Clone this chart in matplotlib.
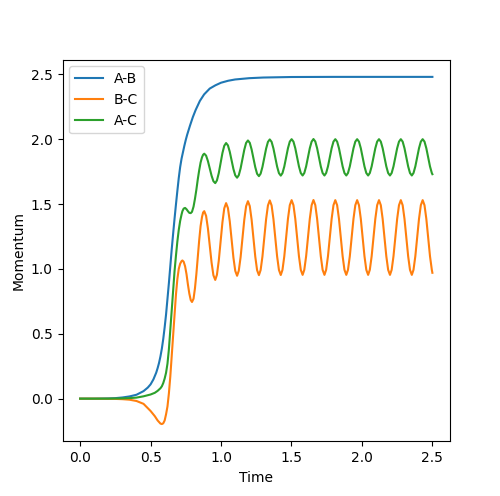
import matplotlib
matplotlib.use("Agg")
import matplotlib.pyplot as plt

# ---- data ----
labels = ["A-B", "B-C", "A-C"]

time_ab = [0.0, 0.1, 0.2, 0.25, 0.3, 0.35, 0.4, 0.45, 0.48, 0.5, 0.52, 0.54, 0.55,
           0.56, 0.57, 0.58, 0.59, 0.6, 0.61, 0.62, 0.63, 0.64, 0.65, 0.66, 0.67,
           0.68, 0.69, 0.70, 0.71, 0.72, 0.73, 0.74, 0.75, 0.76, 0.78, 0.8, 0.82,
           0.85, 0.88, 0.92, 0.96, 1.0, 1.05, 1.1, 1.2, 1.3, 1.5, 1.8, 2.1, 2.5]
ab = [0.0, 0.0, 0.002, 0.004, 0.009, 0.017, 0.03, 0.058, 0.085, 0.11, 0.148, 0.2, 0.235,
      0.275, 0.325, 0.385, 0.46, 0.55, 0.65, 0.77, 0.89, 1.02, 1.15, 1.27, 1.385,
      1.495, 1.60, 1.70, 1.785, 1.85, 1.90, 1.95, 1.995, 2.035, 2.105, 2.17, 2.225,
      2.295, 2.345, 2.39, 2.415, 2.435, 2.45, 2.46, 2.47, 2.475, 2.479, 2.48, 2.48, 2.48]

time_osc = [0.0, 0.1, 0.2, 0.25, 0.3, 0.35, 0.4, 0.45, 0.5, 0.53,
            0.55, 0.57, 0.58, 0.59, 0.60, 0.61, 0.62, 0.63, 0.64, 0.65,
            0.66, 0.67, 0.68, 0.69, 0.70, 0.71, 0.72, 0.726, 0.735, 0.745,
            0.755, 0.765, 0.775, 0.785, 0.794, 0.805, 0.815, 0.825, 0.835, 0.845,
            0.855, 0.865, 0.873,
            0.881, 0.894, 0.907, 0.920, 0.933, 0.946, 0.959, 0.971, 0.984, 0.997, 1.010, 1.023,
            1.036, 1.049, 1.062, 1.075, 1.088, 1.101, 1.114, 1.126, 1.139, 1.152, 1.165, 1.178,
            1.191, 1.204, 1.217, 1.230, 1.243, 1.256, 1.269, 1.281, 1.294, 1.307, 1.320, 1.333,
            1.346, 1.359, 1.372, 1.385, 1.398, 1.411, 1.424, 1.436, 1.449, 1.462, 1.475, 1.488,
            1.501, 1.514, 1.527, 1.540, 1.553, 1.566, 1.579, 1.591, 1.604, 1.617, 1.630, 1.643,
            1.656, 1.669, 1.682, 1.695, 1.708, 1.721, 1.734, 1.746, 1.759, 1.772, 1.785, 1.798,
            1.811, 1.824, 1.837, 1.850, 1.863, 1.876, 1.889, 1.901, 1.914, 1.927, 1.940, 1.953,
            1.966, 1.979, 1.992, 2.005, 2.018, 2.031, 2.044, 2.056, 2.069, 2.082, 2.095, 2.108,
            2.121, 2.134, 2.147, 2.160, 2.173, 2.186, 2.199, 2.211, 2.224, 2.237, 2.250, 2.263,
            2.276, 2.289, 2.302, 2.315, 2.328, 2.341, 2.354, 2.366, 2.379, 2.392, 2.405, 2.418,
            2.431, 2.444, 2.457, 2.470, 2.483, 2.496, 2.500]

bc = [0.0, 0.0, -0.001, -0.002, -0.004, -0.008, -0.018, -0.04, -0.095, -0.135,
      -0.168, -0.192, -0.196, -0.19, -0.168, -0.12, -0.06, 0.04, 0.17, 0.33,
      0.50, 0.66, 0.80, 0.92, 1.00, 1.04, 1.06, 1.065, 1.055, 1.02,
      0.96, 0.88, 0.81, 0.76, 0.745, 0.77, 0.85, 0.96, 1.09, 1.22,
      1.33, 1.40, 1.435,
      1.445, 1.409, 1.312, 1.180, 1.048, 0.951, 0.915, 0.955, 1.063, 1.211, 1.359, 1.467,
      1.507, 1.469, 1.367, 1.227, 1.087, 0.985, 0.947, 0.986, 1.091, 1.235, 1.378, 1.483,
      1.522, 1.484, 1.380, 1.237, 1.095, 0.990, 0.952, 0.991, 1.096, 1.240, 1.384, 1.489,
      1.528, 1.489, 1.384, 1.241, 1.097, 0.992, 0.953, 0.992, 1.097, 1.242, 1.386, 1.491,
      1.530, 1.491, 1.386, 1.242, 1.098, 0.993, 0.954, 0.993, 1.098, 1.242, 1.386, 1.491,
      1.531, 1.492, 1.386, 1.242, 1.098, 0.993, 0.954, 0.993, 1.098, 1.242, 1.386, 1.491,
      1.530, 1.491, 1.386, 1.242, 1.098, 0.993, 0.954, 0.993, 1.098, 1.242, 1.386, 1.491,
      1.530, 1.491, 1.386, 1.242, 1.098, 0.993, 0.954, 0.993, 1.098, 1.242, 1.386, 1.491,
      1.530, 1.491, 1.386, 1.242, 1.098, 0.993, 0.954, 0.993, 1.098, 1.242, 1.386, 1.491,
      1.530, 1.491, 1.386, 1.242, 1.098, 0.993, 0.954, 0.993, 1.098, 1.242, 1.386, 1.491,
      1.530, 1.491, 1.386, 1.242, 1.098, 0.993, 0.970]

ac = [0.0, 0.0, 0.0, 0.001, 0.002, 0.004, 0.008, 0.018, 0.032, 0.045,
      0.06, 0.08, 0.095, 0.12, 0.155, 0.2, 0.27, 0.38, 0.53, 0.69,
      0.84, 0.98, 1.10, 1.21, 1.30, 1.37, 1.42, 1.445, 1.465, 1.47,
      1.46, 1.445, 1.432, 1.43, 1.44, 1.48, 1.54, 1.61, 1.69, 1.76,
      1.82, 1.86, 1.88,
      1.888, 1.873, 1.831, 1.775, 1.718, 1.676, 1.661, 1.682, 1.738, 1.816, 1.893, 1.949,
      1.970, 1.952, 1.903, 1.837, 1.770, 1.721, 1.703, 1.722, 1.775, 1.847, 1.918, 1.971,
      1.990, 1.972, 1.921, 1.853, 1.784, 1.733, 1.715, 1.734, 1.786, 1.857, 1.927, 1.979,
      1.998, 1.979, 1.928, 1.859, 1.789, 1.738, 1.719, 1.738, 1.789, 1.860, 1.930, 1.981,
      2.000, 1.981, 1.930, 1.860, 1.790, 1.739, 1.720, 1.739, 1.790, 1.860, 1.930, 1.981,
      2.001, 1.982, 1.930, 1.860, 1.790, 1.739, 1.720, 1.739, 1.790, 1.860, 1.930, 1.981,
      2.000, 1.981, 1.930, 1.860, 1.790, 1.739, 1.720, 1.739, 1.790, 1.860, 1.930, 1.981,
      2.000, 1.981, 1.930, 1.860, 1.790, 1.739, 1.720, 1.739, 1.790, 1.860, 1.930, 1.981,
      2.000, 1.981, 1.930, 1.860, 1.790, 1.739, 1.720, 1.739, 1.790, 1.860, 1.930, 1.981,
      2.000, 1.981, 1.930, 1.860, 1.790, 1.739, 1.720, 1.739, 1.790, 1.860, 1.930, 1.981,
      2.000, 1.981, 1.930, 1.860, 1.790, 1.739, 1.730]

fig, ax = plt.subplots(figsize=(5.0, 4.96), dpi=100)
ax.plot(time_ab, ab, label=labels[0])
ax.plot(time_osc, bc, label=labels[1])
ax.plot(time_osc, ac, label=labels[2])
ax.set_xlabel("Time")
ax.set_ylabel("Momentum")
ax.legend(loc="upper left")
fig.savefig("out.png", dpi=100)
